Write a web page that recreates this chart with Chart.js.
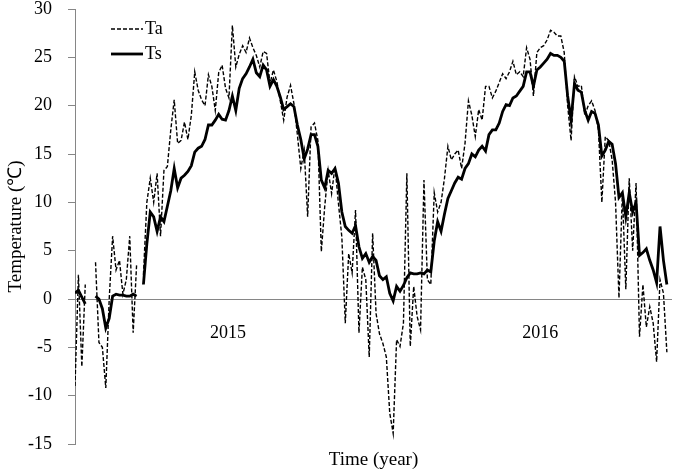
<!DOCTYPE html>
<html>
<head>
<meta charset="utf-8">
<title>Ta / Ts</title>
<script src="https://cdn.jsdelivr.net/npm/chart.js@4.4.0/dist/chart.umd.min.js"></script>
<style>
    body { margin: 0; background: #fff; }
</style>
</head>
<body>
<canvas id="temps" width="685" height="474"></canvas>
<script>
// air temperature, read every 4 days (null = missing)
const ta = [
    -9, 2.5, -7, 1.5, null, null, 3.8, -4.5, -5, -9.2,
    0, 6.5, 3, 4, 0.5, 2, 6.5, -3.5, 3.5, null,
    2.5, 10, 12.5, 10, 13, 6.5, 13.3, 13.7, 17.5, 20.6,
    16.1, 16.4, 18.3, 16.5, 19, 23.5, 21.6, 20.6, 20, 23.2,
    22, 19.5, 23.4, 24.2, 21.8, 20.8, 28.3, 24, 25.3, 26.2,
    25.5, 27, 26, 25.2, 24, 25.6, 25.4, 22.3, 23.7, 22.5,
    20.5, 18.5, 20.9, 22.1, 20.2, 17, 13.5, 15.4, 8.5, 17.8,
    18.2, 16.4, 4.9, 9.6, 13.3, 10.9, 13.7, 9.9, 6.4, -2.5,
    4.7, 2.7, 9.2, -3.5, 3.3, 2, -6, 6.8, -1.5, -3.6,
    -4.6, -6, -11.8, -13.9, -4.2, -4.9, -2.5, 13, -4.9, 1.3,
    -1.8, -3.2, 12.3, 2, 1.5, 11, 9, 10, 12.5, 15.8,
    14.4, 15, 15.4, 13.5, 16.1, 20.5, 19, 16.8, 19.6, 18.5,
    22, 22, 20.8, 21.5, 22.4, 23.3, 22.8, 23.5, 24.6, 23.2,
    23.5, 23, 26, 24.8, 21, 25.5, 26, 26.2, 26.8, 27.8,
    27.6, 27.2, 27.2, 25.5, 20, 16.4, 23, 22, 22.1, 19,
    20, 20.5, 19.5, 17.5, 10, 16.8, 16.4, 14.4, 10, 0.1,
    11, 1, 12.5, 5, 12, -3.9, 1.5, -2.9, -0.8, -2.5,
    -6.5, 2, 0.6, -5.5
];
// soil temperature, same days
const ts = [
    0.6, 0.9, 0.2, -0.5, null, null, 0.3, 0, -1, -3,
    -2, 0.3, 0.5, 0.4, 0.4, 0.3, 0.3, 0.5, 0.3, null,
    1.5, 5.7, 9, 8.5, 7, 8.5, 8, 9.6, 11.2, 13.5,
    11.5, 12.5, 12.8, 13.2, 13.8, 15.2, 15.6, 15.8, 16.5, 18,
    18, 18.5, 19.1, 18.6, 18.5, 19.5, 21, 19.5, 21.8, 22.8,
    23.3, 24, 24.8, 23.4, 23, 24.2, 23.7, 22, 22.7, 22,
    20.9, 19.6, 19.9, 20.2, 19.9, 18, 16.5, 14.5, 15.5, 17,
    17, 15.8, 12.3, 11.5, 13.3, 13, 13.5, 12, 9, 7.5,
    7.1, 6.8, 7.6, 5.4, 4.2, 4.7, 3.8, 4.4, 4, 2.4,
    2, 2.3, 0.6, -0.2, 1.3, 0.8, 1.4, 2.2, 2.7, 2.6,
    2.6, 2.7, 2.6, 3, 2.8, 6, 8, 7, 8.8, 10.4,
    11.2, 12, 12.6, 12.4, 13.5, 14, 15, 14.7, 15.4, 15.8,
    15.3, 17, 17.5, 17.5, 18.2, 19.4, 20.1, 20, 20.8, 21,
    21.5, 22, 23.5, 23.5, 22, 23.7, 24, 24.4, 24.8, 25.4,
    25.2, 25.2, 25, 24.6, 21, 18.5, 22.3, 21.6, 21.4, 19.5,
    18.5, 19.4, 19.2, 18, 14.8, 15.4, 16.3, 16, 14, 10.5,
    11, 8.5, 11, 9, 10, 4.5, 4.8, 5.2, 4, 3,
    1.7, 7.5, 4, 1.5
];
const dayStep = 4;
const days = ta.map((v, i) => i * dayStep);
const yearLabels = ['2015', '2016'];
const yearMid = [179, 544];

const serif = '"Liberation Serif", "Times New Roman", serif';
const axisGray = '#868686';

// year labels under the zero line + the little legend top left
const extras = {
    id: 'extras',
    afterDraw(chart) {
        const ctx = chart.ctx;
        const area = chart.chartArea;
        const x = chart.scales.x, y = chart.scales.y;
        ctx.save();
        ctx.fillStyle = '#000';
        ctx.font = '18px ' + serif;
        ctx.textAlign = 'center';
        ctx.textBaseline = 'middle';
        for (let i in yearLabels) {
            ctx.fillText(yearLabels[i], x.getPixelForValue(yearMid[i]), y.getPixelForValue(0) + 34);
        }

        ctx.textAlign = 'left';
        ctx.strokeStyle = '#000';
        let lx = area.left + 36;
        let rows = [['Ta', 1.4, [4, 2], area.top + 20], ['Ts', 2.8, [], area.top + 45]];
        for (let r of rows) {
            ctx.lineWidth = r[1];
            ctx.setLineDash(r[2]);
            ctx.beginPath();
            ctx.moveTo(lx, r[3]);
            ctx.lineTo(lx + 32, r[3]);
            ctx.stroke();
            ctx.fillText(r[0], lx + 34, r[3]);
        }
        ctx.restore();
    }
};

new Chart(document.getElementById('temps'), {
    type: 'line',
    data: {
        datasets: [{
            label: 'Ta',
            data: days.map((d, i) => ({x: d, y: ta[i]})),
            borderColor: '#000',
            borderWidth: 1.4,
            borderDash: [4, 2],
            pointRadius: 0,
            tension: 0,
            order: 1
        },
        {
            label: 'Ts',
            data: days.map((d, i) => ({x: d, y: ts[i]})),
            borderColor: '#000',
            borderWidth: 2.8,
            pointRadius: 0,
            tension: 0,
            order: 0
        }]
    },
    options: {
        responsive: false,
        animation: false,
        layout: { padding: { top: 9, right: 13, bottom: 0, left: 0 } },
        plugins: { legend: { display: false }, tooltip: { enabled: false } },
        scales: {
            x: {
                type: 'linear',
                min: 0,
                max: 698,
                grid: { display: false },
                border: { display: false },
                ticks: { display: false },
                title: { display: true, text: 'Time (year)', color: '#000', font: { family: serif, size: 19 }, padding: { top: 0, bottom: 3 } },
                afterFit: s => { s.height = 30; s.paddingLeft = 0; s.paddingRight = 0; }
            },
            y: {
                min: -15,
                max: 30,
                ticks: { stepSize: 5, color: '#000', font: { family: serif, size: 18 }, padding: 16 },
                grid: {
                    color: c => c.tick && c.tick.value === 0 ? axisGray : 'rgba(0,0,0,0)',
                    tickColor: axisGray,
                    tickLength: 7,
                    lineWidth: 1
                },
                border: { color: axisGray },
                title: { display: true, text: 'Temperature (℃)', color: '#000', font: { family: serif, size: 19 }, padding: { top: 5, bottom: 0 } },
                afterFit: s => { s.width = 75; s.paddingTop = 0; s.paddingBottom = 0; }
            }
        }
    },
    plugins: [extras]
});
</script>
</body>
</html>
